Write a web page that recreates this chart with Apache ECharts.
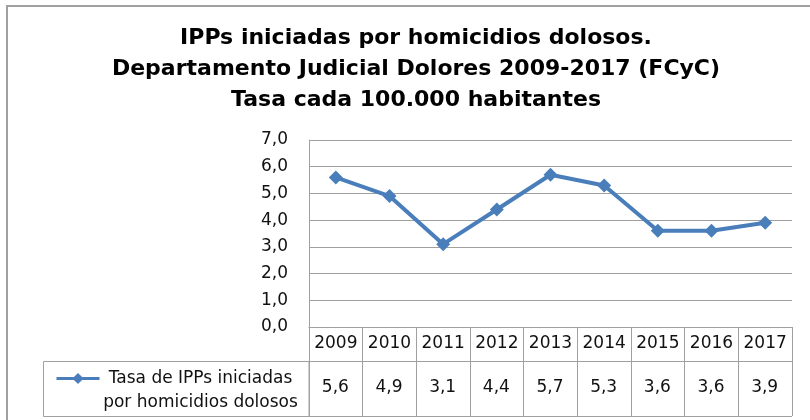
<!DOCTYPE html>
<html>
<head>
<meta charset="utf-8">
<script src="https://cdn.jsdelivr.net/npm/echarts@6/dist/echarts.min.js"></script>
<style>
  html, body { margin: 0; padding: 0; background: #fff; }
  #chart { width: 810px; height: 420px; }
</style>
</head>
<body>
<div id="chart"></div>
<script>
const years = ['2009', '2010', '2011', '2012', '2013', '2014', '2015', '2016', '2017']
const rates = [5.6, 4.9, 3.1, 4.4, 5.7, 5.3, 3.6, 3.6, 3.9]
const seriesName = 'Tasa de IPPs iniciadas por homicidios dolosos'
const legendLines = ['Tasa de IPPs iniciadas', 'por homicidios dolosos']
const titleLines = [
  'IPPs iniciadas por homicidios dolosos.',
  'Departamento Judicial Dolores 2009-2017 (FCyC)',
  'Tasa cada 100.000 habitantes'
]

const blue = '#4a7ebb'
const gray = '#a0a0a0'
const textColor = '#111'
const font = 'DejaVu Sans'
const coma = v => v.toFixed(1).replace('.', ',')

const chart = echarts.init(document.getElementById('chart'))

chart.setOption({
  backgroundColor: '#fff',
  animation: false,
  title: {
    text: titleLines.join('\n'),
    left: 411,
    top: 18,
    textAlign: 'center',
    textStyle: {
      fontFamily: font,
      fontWeight: 'bold',
      fontSize: 22,
      lineHeight: 31,
      color: '#000'
    }
  },
  legend: {
    left: 50,
    top: 365,
    itemWidth: 43,
    itemHeight: 14,
    data: [seriesName],
    lineStyle: { width: 3 },
    formatter: () => legendLines.map(l => '{a|' + l + '}').join('\n'),
    textStyle: {
      padding: [24, 0, 0, 0],
      rich: {
        a: {
          fontFamily: font,
          fontSize: 17,
          lineHeight: 24,
          width: 192,
          align: 'center',
          color: textColor
        }
      }
    }
  },
  graphic: [
    // marco exterior
    {
      type: 'rect',
      shape: { x: 7, y: 6, width: 830, height: 440 },
      style: { fill: null, stroke: gray, lineWidth: 2 },
      silent: true
    },
    // celda de la leyenda
    {
      type: 'rect',
      shape: { x: 43.5, y: 361.5, width: 265.5, height: 55 },
      style: { fill: null, stroke: gray, lineWidth: 1 },
      silent: true
    }
  ],
  grid: [
    { left: 309, right: 18, top: 140, height: 187 },
    { left: 309, right: 18, top: 361, height: 55 }
  ],
  xAxis: [
    {
      type: 'category',
      gridIndex: 0,
      data: years,
      axisLine: { lineStyle: { color: gray, width: 1 } },
      axisTick: { show: true, interval: 0, length: 34, lineStyle: { color: gray } },
      axisLabel: {
        interval: 0,
        margin: 8,
        fontFamily: font,
        fontSize: 17,
        color: textColor
      }
    },
    {
      type: 'category',
      gridIndex: 1,
      data: years,
      axisLine: { show: false },
      axisTick: { show: false },
      axisLabel: { show: false },
      splitLine: { show: true, interval: 0, lineStyle: { color: gray } }
    }
  ],
  yAxis: [
    {
      type: 'value',
      gridIndex: 0,
      min: 0,
      max: 7,
      interval: 1,
      axisLine: { show: true, lineStyle: { color: gray } },
      axisTick: { show: false },
      splitLine: { lineStyle: { color: gray } },
      axisLabel: {
        margin: 21,
        formatter: v => coma(v),
        fontFamily: font,
        fontSize: 17,
        color: textColor
      }
    },
    {
      type: 'value',
      gridIndex: 1,
      min: 0,
      max: 1,
      interval: 1,
      axisLine: { show: false },
      axisTick: { show: false },
      axisLabel: { show: false },
      splitLine: { show: true, lineStyle: { color: gray } }
    }
  ],
  series: [
    {
      name: seriesName,
      type: 'line',
      xAxisIndex: 0,
      yAxisIndex: 0,
      data: rates,
      symbol: 'diamond',
      symbolSize: 14,
      lineStyle: { color: blue, width: 4 },
      itemStyle: { color: blue }
    },
    // valores de la tabla de datos
    {
      name: 'tabla',
      type: 'scatter',
      xAxisIndex: 1,
      yAxisIndex: 1,
      data: rates.map((v, i) => [i, 0.5, v]),
      symbolSize: 1,
      itemStyle: { color: '#fff', opacity: 1 },
      label: {
        show: true,
        position: [0, 0],
        align: 'center',
        verticalAlign: 'middle',
        formatter: p => coma(p.value[2]),
        fontFamily: font,
        fontSize: 17,
        color: textColor,
        opacity: 1,
        textBorderWidth: 0
      },
      silent: true
    }
  ]
})
</script>
</body>
</html>
